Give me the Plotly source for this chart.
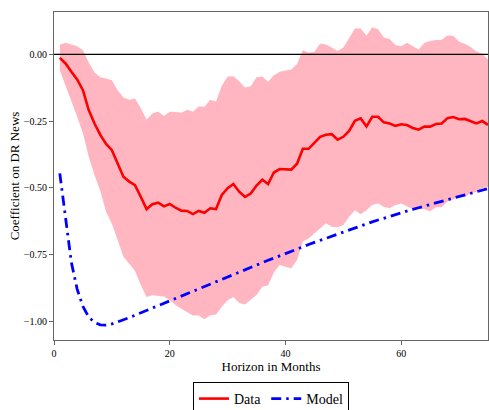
import plotly.graph_objects as go

months = list(range(1, 76))

data_coef = [-0.013, -0.034, -0.065, -0.094, -0.134, -0.209, -0.259, -0.302, -0.336, -0.359,
             -0.409, -0.459, -0.477, -0.490, -0.534, -0.580, -0.562, -0.556, -0.570, -0.561,
             -0.575, -0.586, -0.587, -0.599, -0.587, -0.594, -0.577, -0.580, -0.527, -0.502,
             -0.486, -0.515, -0.534, -0.522, -0.492, -0.470, -0.486, -0.443, -0.430, -0.431,
             -0.432, -0.410, -0.354, -0.354, -0.331, -0.309, -0.301, -0.299, -0.320, -0.309,
             -0.287, -0.249, -0.240, -0.270, -0.234, -0.234, -0.255, -0.259, -0.268, -0.262,
             -0.265, -0.276, -0.282, -0.271, -0.271, -0.261, -0.259, -0.239, -0.235, -0.243,
             -0.242, -0.252, -0.259, -0.250, -0.264]

upper_ci = [0.036, 0.044, 0.037, 0.031, 0.016, -0.030, -0.068, -0.086, -0.090, -0.097,
            -0.134, -0.162, -0.170, -0.165, -0.202, -0.245, -0.222, -0.214, -0.231, -0.215,
            -0.216, -0.219, -0.208, -0.215, -0.195, -0.196, -0.170, -0.177, -0.118, -0.083,
            -0.082, -0.101, -0.124, -0.119, -0.086, -0.083, -0.103, -0.078, -0.065, -0.061,
            -0.057, -0.036, 0.016, 0.007, 0.010, 0.041, 0.037, 0.026, 0.013, 0.026,
            0.060, 0.097, 0.097, 0.071, 0.102, 0.094, 0.063, 0.058, 0.035, 0.031,
            0.044, 0.031, 0.018, 0.043, 0.050, 0.054, 0.055, 0.071, 0.070, 0.047,
            0.040, 0.028, 0.011, 0.002, -0.019]

lower_ci = [-0.059, -0.115, -0.178, -0.234, -0.296, -0.384, -0.452, -0.512, -0.590, -0.635,
            -0.696, -0.759, -0.785, -0.812, -0.865, -0.910, -0.903, -0.906, -0.908, -0.921,
            -0.940, -0.954, -0.965, -0.979, -0.979, -0.993, -0.978, -0.975, -0.946, -0.922,
            -0.910, -0.932, -0.938, -0.921, -0.902, -0.871, -0.866, -0.818, -0.790, -0.796,
            -0.802, -0.771, -0.702, -0.690, -0.671, -0.652, -0.633, -0.646, -0.648, -0.640,
            -0.609, -0.584, -0.599, -0.584, -0.565, -0.559, -0.571, -0.577, -0.565, -0.559,
            -0.571, -0.581, -0.579, -0.581, -0.588, -0.573, -0.573, -0.552, -0.543, -0.534,
            -0.534, -0.521, -0.515, -0.502, -0.496]

model_coef = [-0.446, -0.610, -0.780, -0.880, -0.945, -0.985, -1.005, -1.014, -1.015, -1.011,
              -1.004, -0.996, -0.987, -0.978, -0.969, -0.960, -0.950, -0.941, -0.932, -0.922,
              -0.913, -0.904, -0.895, -0.886, -0.877, -0.868, -0.859, -0.850, -0.841, -0.832,
              -0.823, -0.815, -0.806, -0.798, -0.789, -0.781, -0.772, -0.764, -0.755, -0.747,
              -0.738, -0.730, -0.721, -0.713, -0.705, -0.697, -0.689, -0.681, -0.673, -0.665,
              -0.657, -0.649, -0.642, -0.635, -0.628, -0.621, -0.614, -0.607, -0.601, -0.594,
              -0.588, -0.581, -0.575, -0.569, -0.563, -0.557, -0.551, -0.545, -0.539, -0.533,
              -0.527, -0.521, -0.515, -0.509, -0.503]

x_ticks = [0, 20, 40, 60]
y_ticks = [0.0, -0.25, -0.5, -0.75, -1.0]

FONT = "Liberation Serif"
FRAME = "#666666"

fig = go.Figure()
fig.add_trace(go.Scatter(x=months, y=upper_ci, mode="lines", line=dict(width=0),
                         showlegend=False, hoverinfo="skip"))
fig.add_trace(go.Scatter(x=months, y=lower_ci, mode="lines", line=dict(width=0),
                         fill="tonexty", fillcolor="rgb(255,182,193)",
                         showlegend=False, hoverinfo="skip"))
fig.add_trace(go.Scatter(x=months, y=data_coef, mode="lines", name="Data",
                         line=dict(color="#ff0000", width=2.6)))
fig.add_trace(go.Scatter(x=months, y=model_coef, mode="lines", name="Model",
                         line=dict(color="#0000ff", width=2.8, dash="10px,5px,2.5px,5px")))

fig.add_hline(y=0, line=dict(color="black", width=1.2))

fig.update_layout(
    width=489, height=410,
    margin=dict(l=54, r=1, t=12, b=70, autoexpand=False),
    paper_bgcolor="white", plot_bgcolor="white",
    font=dict(family=FONT, size=13, color="black"),
    showlegend=True,
    legend=dict(orientation="h", x=0.5, xanchor="center", y=-0.128, yanchor="top",
                traceorder="normal",
                bordercolor="black", borderwidth=1, bgcolor="white",
                font=dict(family=FONT, size=14)),
    xaxis=dict(range=[0, 75], tickvals=x_ticks, ticktext=[str(v) for v in x_ticks],
               showgrid=False, zeroline=False, showline=True, mirror=True, automargin=False,
               linecolor=FRAME, linewidth=1, ticks="outside", ticklen=4, tickcolor=FRAME,
               tickfont=dict(family=FONT, size=10),
               title=dict(text="Horizon in Months", font=dict(family=FONT, size=13), standoff=0)),
    yaxis=dict(range=[-1.071, 0.159], tickvals=y_ticks, tickformat=".2f",
               showgrid=False, zeroline=False, showline=True, mirror=True, automargin=False,
               linecolor=FRAME, linewidth=1, ticks="outside", ticklen=4, tickcolor=FRAME,
               tickfont=dict(family=FONT, size=10),
               title=dict(text="Coefficient on DR News", font=dict(family=FONT, size=13), standoff=1)),
)

fig.write_html("out.html", config={"displayModeBar": False},
               post_script="document.body.style.margin='0';document.body.style.overflow='hidden';")
